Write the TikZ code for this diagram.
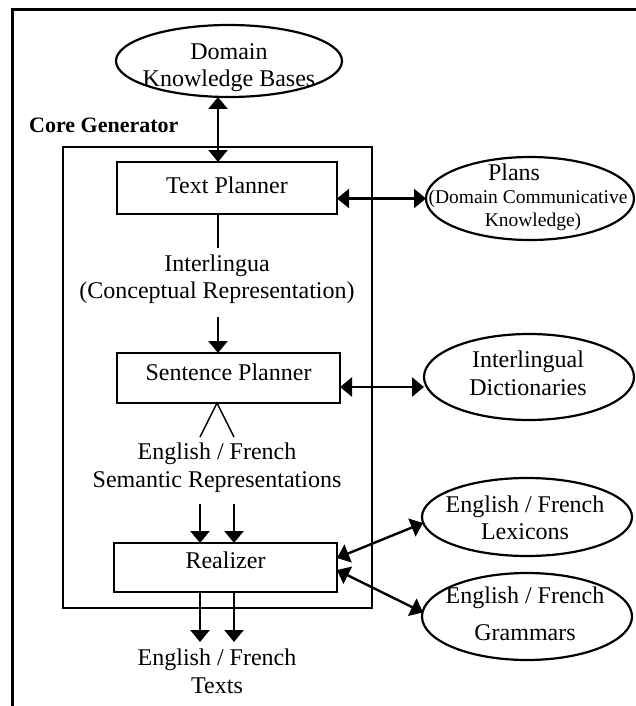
\documentclass[tikz,border=0pt]{standalone}
\usepackage{fontspec}
\setmainfont{Liberation Serif}
\usetikzlibrary{arrows.meta,shapes.geometric,calc}
\tikzset{bighead/.tip={Triangle[length=12pt,width=19pt]}}
\begin{document}
\begin{tikzpicture}[x=1pt,y=-1pt,
  box/.style={draw,line width=2.6pt,rectangle,inner sep=0pt,outer sep=0pt,font=\fontsize{24}{28}\selectfont},
  oval/.style={draw,line width=2.2pt,ellipse,inner sep=0pt,outer sep=0pt},
  lbl/.style={anchor=base,inner sep=0pt,font=\fontsize{24}{28}\selectfont},
  small/.style={anchor=base,inner sep=0pt,font=\fontsize{19.5}{22}\selectfont},
  conn/.style={line width=2.4pt},
  thinline/.style={line width=1.5pt},
  onehead/.style={conn,-bighead},
  twohead/.style={conn,bighead-bighead}]
\useasboundingbox (0,0) rectangle (636,706);
% outer frame (open on right and bottom)
\draw[line width=3pt] (12,712) -- (12,9.5) -- (642,9.5);

% core generator
\node[anchor=base west,inner sep=0pt,font=\fontsize{22}{26}\selectfont\bfseries] (corelbl) at (29,132) {Core Generator};
\node[box,minimum width=309pt,minimum height=461pt] (core) at (217.5,377.5) {};

% boxes
\node[box,minimum width=220pt,minimum height=52pt,text height=16pt,text depth=6pt] (tp) at (227,188) {Text Planner};
\node[box,minimum width=223pt,minimum height=50pt,text height=16pt,text depth=12pt] (sp) at (228.5,378) {Sentence Planner};
\node[box,minimum width=223pt,minimum height=49pt,text height=16pt,text depth=15pt] (real) at (225.5,567.5) {Realizer};

% ellipses
\node[oval,minimum width=226pt,minimum height=72pt] (dom) at (229,61) {};
\node[lbl] (dom1) at (229,60) {Domain};
\node[lbl] (dom2) at (229,87) {Knowledge Bases};

\node[oval,minimum width=208pt,minimum height=83pt] (plans) at (530,198.5) {};
\node[lbl] (plans1) at (514,180) {Plans};
\node[small] (plans2) at (528,203) {(Domain Communicative};
\node[small] (plans3) at (533,226) {Knowledge)};

\node[oval,minimum width=210pt,minimum height=86pt] (id) at (529,377) {};
\node[lbl] (id1) at (528,367) {Interlingual};
\node[lbl] (id2) at (528,395) {Dictionaries};

\node[oval,minimum width=210pt,minimum height=78pt] (lex) at (527,517) {};
\node[lbl] (lex1) at (525,512) {English / French};
\node[lbl] (lex2) at (525,539) {Lexicons};

\node[oval,minimum width=210pt,minimum height=87pt] (gram) at (527,616.5) {};
\node[lbl] (gram1) at (525,603) {English / French};
\node[lbl] (gram2) at (525,640) {Grammars};

% free texts
\node[lbl] (il1) at (217,271) {Interlingua};
\node[lbl] (il2) at (217,298) {(Conceptual Representation)};
\node[lbl] (sem1) at (217,459) {English / French};
\node[lbl] (sem2) at (217,487) {Semantic Representations};
\node[lbl] (out1) at (217,665) {English / French};
\node[lbl] (out2) at (217,693) {Texts};

% coordinates
\coordinate (colx) at (218,0);
\coordinate (apx) at (217,0);
\coordinate (ilend) at (218,248);
\coordinate (ilstart) at (218,317);
\coordinate (idy) at (0,387);
\coordinate (lamL) at (200,437);
\coordinate (lamR) at (234,437);
\coordinate (s1) at (200,504);
\coordinate (s2) at (234,504);
\coordinate (o1) at (200,642);
\coordinate (o2) at (234,642);
\coordinate (rl) at (0,558);
\coordinate (rg) at (0,570);

% connectors
\draw[twohead] (dom.south -| colx) -- (tp.north -| colx);
\draw[twohead] (tp.east |- plans.west) -- (plans.west);
\draw[thinline] (tp.south -| colx) -- (ilend);
\draw[onehead] (ilstart) -- (sp.north -| colx);
\draw[twohead] (sp.east |- idy) -- (id.west |- idy);
\draw[thinline] (lamL) -- (sp.south -| apx) -- (lamR);
\draw[onehead] (s1) -- (real.north -| s1);
\draw[onehead] (s2) -- (real.north -| s2);
\draw[onehead] (real.south -| o1) -- (o1);
\draw[onehead] (real.south -| o2) -- (o2);
\draw[twohead] (real.east |- rl) -- ($(lex.west)+(1,6)$);
\draw[twohead] (real.east |- rg) -- ($(gram.west)+(1,-4)$);
\end{tikzpicture}
\end{document}
